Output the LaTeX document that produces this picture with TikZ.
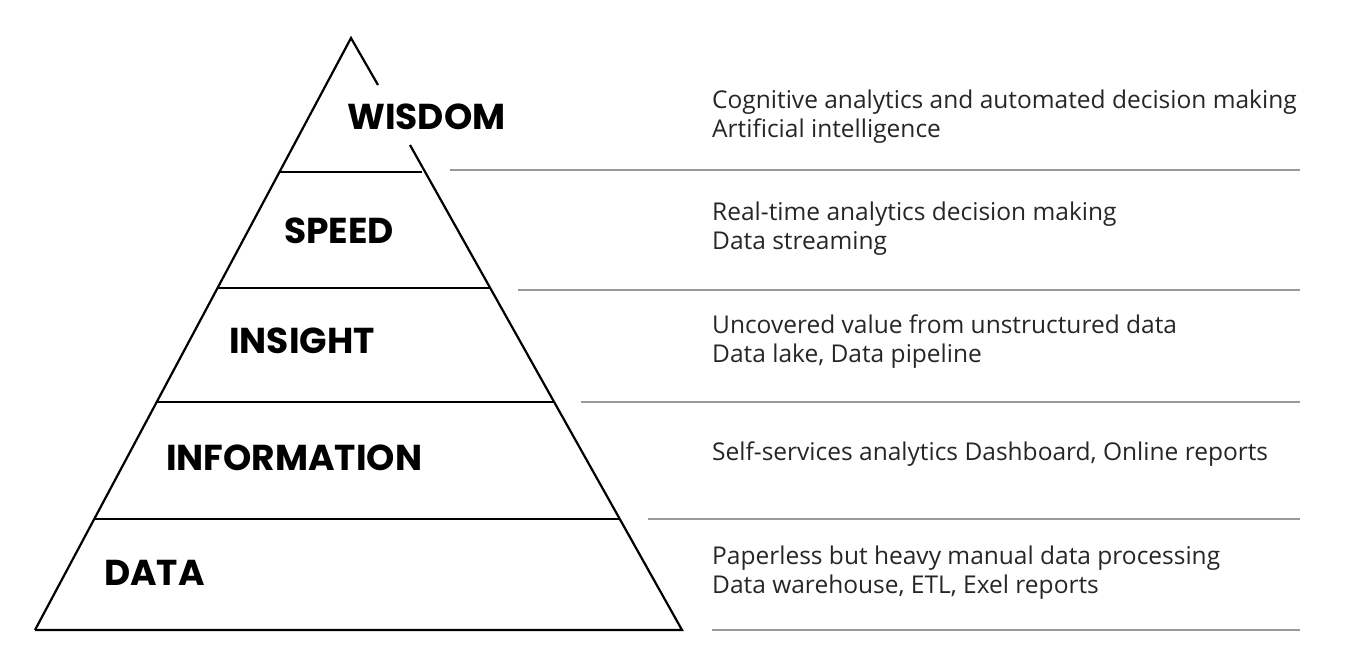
\documentclass[tikz,border=0pt]{standalone}
\usepackage{fontspec}
\setmainfont{Open Sans}
\newfontfamily\headfont{Poppins}
\begin{document}
\begin{tikzpicture}[x=1pt,y=-1pt,
  lvl/.style={anchor=west,inner sep=0pt,font=\headfont\bfseries\fontsize{36}{36}\selectfont},
  desc/.style={anchor=west,inner sep=0pt,align=left,font=\fontsize{24.5}{29}\selectfont,text=black!85},
  edge/.style={line width=2.2pt,black},
  gray/.style={line width=2pt,black!40}]
\useasboundingbox (0,0) rectangle (1355,671);
\coordinate (apex) at (351,38);
\coordinate (bl) at (35,630);
\coordinate (br) at (682,630);
\draw[edge] (bl) -- (apex) -- (378,85);
\draw[edge] (410,145) -- (br) -- (bl);
\draw[edge] (280,172) -- (422,172);
\draw[edge] (218,288) -- (490,288);
\draw[edge] (157,402) -- (553,402);
\draw[edge] (95,519) -- (620,519);
\draw[gray] (450,170) -- (1300,170);
\draw[gray] (518,290) -- (1300,290);
\draw[gray] (581,402) -- (1300,402);
\draw[gray] (648,519) -- (1300,519);
\draw[gray] (712,630) -- (1300,630);
\node[lvl] (w) at (347,117) {WISDOM};
\node[lvl] (s) at (284,231) {SPEED};
\node[lvl] (i) at (229,341) {INSIGHT};
\node[lvl] (f) at (166,458) {INFORMATION};
\node[lvl] (d) at (104,573) {DATA};
\node[desc] (t1) at (712,117) {Cognitive analytics and automated decision making\\Artificial intelligence};
\node[desc] (t2) at (712,229) {Real-time analytics decision making\\Data streaming};
\node[desc] (t3) at (712,342) {Uncovered value from unstructured data\\Data lake, Data pipeline};
\node[desc] (t4) at (712,454) {Self-services analytics Dashboard, Online reports};
\node[desc] (t5) at (712,573) {Paperless but heavy manual data processing\\Data warehouse, ETL, Exel reports};
\end{tikzpicture}
\end{document}
